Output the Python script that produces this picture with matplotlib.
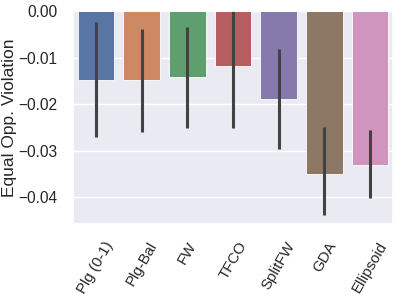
import numpy as np
import matplotlib
matplotlib.use("Agg")
import matplotlib.pyplot as plt
import seaborn as sns

sns.set_theme(style="darkgrid")
plt.rcParams["font.family"] = ["Liberation Sans", "DejaVu Sans"]

metodos = ["Plg (0-1)", "Plg-Bal", "FW", "TFCO", "SplitFW", "GDA", "Ellipsoid"]
violacion = [-0.0148, -0.0148, -0.0141, -0.0118, -0.0190, -0.0350, -0.0331]
err_sup = [-0.0024, -0.0039, -0.0034, 0.0010, -0.0082, -0.0249, -0.0256]
err_inf = [-0.0271, -0.0260, -0.0252, -0.0251, -0.0297, -0.0439, -0.0402]

colores = [sns.desaturate(c, 0.75) for c in sns.color_palette("deep", len(metodos))]

fig = plt.figure(figsize=(3.99, 2.99), dpi=100)
ax = fig.add_axes([0.183, 0.251, 0.802, 0.712])

x = np.arange(len(metodos))
ax.bar(x, violacion, width=0.8, color=colores, edgecolor="white", linewidth=0.6)
ax.vlines(x, err_inf, err_sup, color="#424242", linewidth=2.2)

ax.set_xlim(-0.5, len(metodos) - 0.5)
ax.set_ylim(-0.0458, 0.0)
ax.set_yticks([0.0, -0.01, -0.02, -0.03, -0.04])
ax.set_yticklabels(["0.00", "\u22120.01", "\u22120.02", "\u22120.03", "\u22120.04"])
ax.set_xticks(x)
ax.set_xticklabels(metodos, rotation=60)
ax.grid(False, axis="x")
ax.tick_params(axis="y", labelsize=11.2, pad=5.5)
ax.tick_params(axis="x", labelsize=10.8, pad=5)
ax.set_ylabel("Equal Opp. Violation", fontsize=12.5, labelpad=1)

fig.savefig("out.png", dpi=100)
